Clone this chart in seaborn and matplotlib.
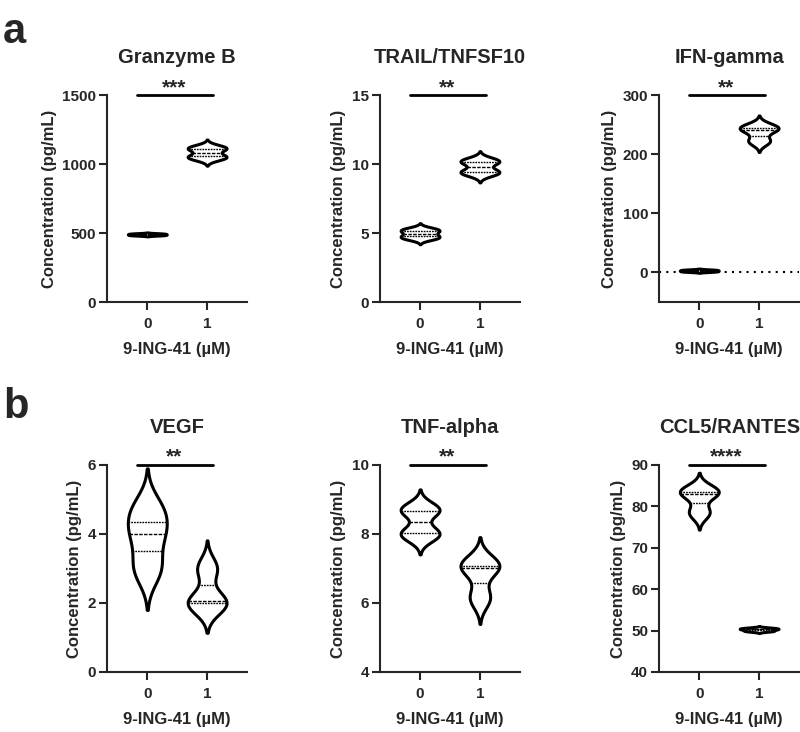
import matplotlib
matplotlib.use("Agg")
import matplotlib.pyplot as plt
import seaborn as sns
import pandas as pd

DOSES = ["0", "1"]

# panel a (pg/mL, replicate values)
granzyme_0 = [484, 490, 496]
granzyme_1 = [1040, 1060, 1105, 1125]
trail_0 = [4.6, 4.8, 5.1, 5.3]
trail_1 = [9.3, 9.5, 10.1, 10.3]
ifn_0 = [1.5, 3.0, 4.5]
ifn_1 = [222, 241, 247]

# panel b
vegf_0 = [3.0, 4.0, 4.7]
vegf_1 = [1.95, 2.05, 3.0]
tnf_0 = [7.95, 8.05, 8.65, 8.75]
tnf_1 = [6.15, 7.0, 7.15]
ccl5_0 = [78.5, 83, 84]
ccl5_1 = [49.9, 50.3, 50.6]

TITLES = ["Granzyme B", "TRAIL/TNFSF10", "IFN-gamma", "VEGF", "TNF-alpha", "CCL5/RANTES"]
STARS = ["***", "**", "**", "**", "**", "****"]
VALUES = [
    (granzyme_0, granzyme_1),
    (trail_0, trail_1),
    (ifn_0, ifn_1),
    (vegf_0, vegf_1),
    (tnf_0, tnf_1),
    (ccl5_0, ccl5_1),
]
YLIMS = [(0, 1500), (0, 15), (-50, 300), (0, 6), (4, 10), (40, 90)]
YTICKS = [
    [0, 500, 1000, 1500],
    [0, 5, 10, 15],
    [0, 100, 200, 300],
    [0, 2, 4, 6],
    [4, 6, 8, 10],
    [40, 50, 60, 70, 80, 90],
]

sns.set_style("ticks")
plt.rcParams["font.family"] = ["Liberation Sans", "DejaVu Sans"]
plt.rcParams["font.weight"] = "bold"
plt.rcParams["axes.labelweight"] = "bold"
plt.rcParams["axes.titleweight"] = "bold"


def panel(ax, title, stars, v0, v1, ylim, yticks, zero_line=False):
    df = pd.DataFrame({"dose": ["0"] * len(v0) + ["1"] * len(v1), "conc": v0 + v1})

    if zero_line:
        ax.axhline(0, color="black", linestyle=(0, (1, 2.5)), linewidth=1.5, zorder=0)

    sns.violinplot(
        data=df, x="dose", y="conc", order=DOSES, ax=ax,
        color="white", saturation=1, linecolor="black", linewidth=2.2,
        inner="quart", inner_kws=dict(linewidth=1),
        density_norm="width", width=0.65, cut=2.5, bw_adjust=0.7,
    )

    ax.set_xlim(-0.67, 1.67)
    ax.set_ylim(*ylim)
    ax.set_yticks(yticks)
    ax.set_title(title, fontsize=14.5, pad=23)
    ax.set_ylabel("Concentration (pg/mL)", fontsize=12, labelpad=4)
    ax.set_xlabel("9-ING-41 (µM)", fontsize=12, labelpad=8)
    ax.tick_params(width=1.5, length=6, labelsize=11)
    ax.tick_params(axis="x", pad=5)
    ax.tick_params(axis="y", pad=2)
    ax.spines[["top", "right"]].set_visible(False)
    ax.spines[["left", "bottom"]].set_linewidth(1.5)

    # significance bar
    top = ylim[1]
    ax.plot([-0.17, 1.1], [top, top], color="black", linewidth=2, clip_on=False)
    ax.annotate(stars, xy=(0.45, top), xytext=(0, 1.5), textcoords="offset points",
                ha="center", va="baseline", fontsize=15, annotation_clip=False)


fig = plt.figure(figsize=(8, 7.32), dpi=100)

lefts = [0.134, 0.475, 0.824]
bottoms = [0.5874, 0.082]
for i, (title, stars, (v0, v1), ylim, yticks) in enumerate(zip(TITLES, STARS, VALUES, YLIMS, YTICKS)):
    row, col = divmod(i, 3)
    ax = fig.add_axes([lefts[col], bottoms[row], 0.175, 0.2828])
    panel(ax, title, stars, v0, v1, ylim, yticks, zero_line=(title == "IFN-gamma"))

fig.text(0.004, 0.941, "a", fontsize=30, fontweight="bold", va="baseline")
fig.text(0.004, 0.429, "b", fontsize=30, fontweight="bold", va="baseline")

fig.savefig("out.png", dpi=100)
